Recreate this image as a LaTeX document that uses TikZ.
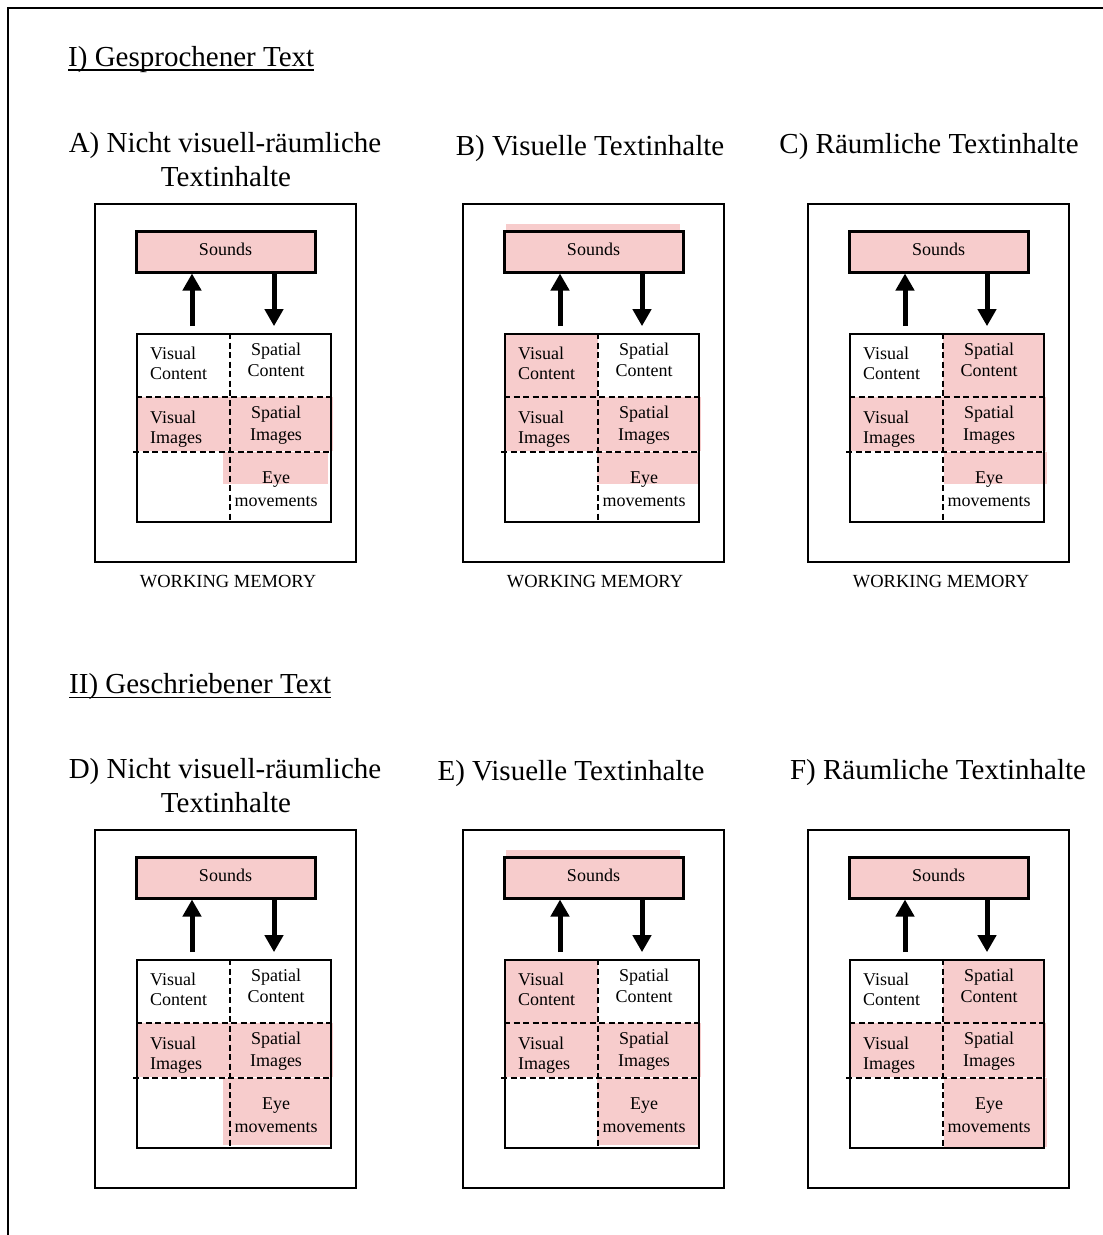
\documentclass[tikz,border=0pt]{standalone}
\usepackage{fontspec}
\setmainfont{Liberation Serif}
\usetikzlibrary{arrows.meta}
\definecolor{wmpink}{RGB}{247,204,204}

\tikzset{
  x=1pt, y=-1pt,
  framebox/.style={draw, line width=2.6pt, minimum width=261pt, minimum height=358pt, inner sep=0pt},
  soundsbox/.style={draw, line width=3pt, fill=wmpink, minimum width=179pt, minimum height=41pt,
    inner sep=0pt, text depth=5pt, font=\fontsize{18}{20}\selectfont},
  gridbox/.style={draw, line width=1.7pt, minimum width=194pt, minimum height=188pt, inner sep=0pt},
  griddash/.style={line width=1.6pt, dash pattern=on 6pt off 3.5pt},
  bigarrow/.style={line width=5pt, -{Triangle[width=18pt,length=17pt]}},
  cell/.style={inner sep=0pt, font=\fontsize{18}{20}\selectfont},
  heading/.style={inner sep=0pt, font=\fontsize{29}{34}\selectfont},
  wmlabel/.style={inner sep=0pt, font=\fontsize{18.5}{20}\selectfont},
  pinkfill/.style={fill=wmpink, draw=none}
}

% highlighted cells, in panel coordinates
\newcommand\pinkVC{\fill[pinkfill] (42,130) rectangle (135,193);}
\newcommand\pinkSC{\fill[pinkfill] (135,130) rectangle (235,193);}
\newcommand\pinkVI{\fill[pinkfill] (42,193) rectangle (135,247);}
\newcommand\pinkSI{\fill[pinkfill] (135,193) rectangle (238,247);}
\newcommand\pinkEye[3]{\fill[pinkfill] (#1,248) rectangle (#2,#3);}
\newcommand\pinkSnd{\fill[pinkfill] (43,20) rectangle (217,30);}

% one working-memory panel: #1 name, #2 x, #3 y, #4 highlighted cells
\newcommand\wmpanel[4]{%
  \begin{scope}[shift={(#2,#3)}]
    #4
    \node[framebox] (#1-frame) at (130.5,179) {};
    \node[gridbox] (#1-grid) at (139,224) {};
    \node[soundsbox] (#1-sounds) at (130.5,47.5) {Sounds};
    \coordinate (#1-upx) at (97,0);
    \coordinate (#1-dnx) at (179,0);
    \coordinate (#1-vx) at (135,0);
    \coordinate (#1-h1) at (0,193);
    \coordinate (#1-h2) at (38,248);
    \draw[griddash] (#1-grid.north -| #1-vx) -- (#1-grid.south -| #1-vx);
    \draw[griddash] (#1-grid.west |- #1-h1) -- (#1-grid.east |- #1-h1);
    \draw[griddash] (#1-h2) -- (#1-grid.east |- #1-h2);
    \draw[bigarrow, shorten <=7pt] (#1-grid.north -| #1-upx) -- (#1-sounds.south -| #1-upx);
    \draw[bigarrow, shorten >=7pt] (#1-sounds.south -| #1-dnx) -- (#1-grid.north -| #1-dnx);
    \node[cell, anchor=base west] (#1-vc1) at (55,155) {Visual};
    \node[cell, anchor=base west] (#1-vc2) at (55,175.5) {Content};
    \node[cell, anchor=base] (#1-sc1) at (181,151) {Spatial};
    \node[cell, anchor=base] (#1-sc2) at (181,172) {Content};
    \node[cell, anchor=base west] (#1-vi1) at (55,219) {Visual};
    \node[cell, anchor=base west] (#1-vi2) at (55,239) {Images};
    \node[cell, anchor=base] (#1-si1) at (181,214) {Spatial};
    \node[cell, anchor=base] (#1-si2) at (181,236) {Images};
    \node[cell, anchor=base] (#1-ey1) at (181,279.5) {Eye};
    \node[cell, anchor=base] (#1-ey2) at (181,302) {movements};
  \end{scope}}

\begin{document}
\begin{tikzpicture}
  \useasboundingbox (0,0) rectangle (1103,1235);
  \fill[white] (0,0) rectangle (1103,1235);
  % page frame, open to the right and bottom
  \draw[line width=2pt] (1103,7.5) -- (8,7.5) -- (8,1235);

  % section I
  \node[heading, anchor=base west] (secI) at (68,66.5) {I) Gesprochener Text};
  \draw[line width=1.5pt] ([yshift=-3.5pt]secI.base west) -- ([yshift=-3.5pt]secI.base east);
  \node[heading, anchor=base] (A-t1) at (225,152) {A) Nicht visuell-räumliche};
  \node[heading, anchor=base] (A-t2) at (226,186) {Textinhalte};
  \node[heading, anchor=base] (B-t1) at (590,155) {B) Visuelle Textinhalte};
  \node[heading, anchor=base] (C-t1) at (929,153) {C) Räumliche Textinhalte};

  \wmpanel{A}{95}{204}{\pinkVI\pinkSI\pinkEye{128}{233}{280}}
  \wmpanel{B}{463}{204}{\pinkSnd\pinkVC\pinkVI\pinkSI\pinkEye{134}{237}{280}}
  \wmpanel{C}{808}{204}{\pinkSC\pinkVI\pinkSI\pinkEye{136}{239}{280}}

  \node[wmlabel, anchor=base] (A-wm) at (228,587) {WORKING MEMORY};
  \node[wmlabel, anchor=base] (B-wm) at (595,587) {WORKING MEMORY};
  \node[wmlabel, anchor=base] (C-wm) at (941,587) {WORKING MEMORY};

  % section II
  \node[heading, anchor=base west] (secII) at (69,693) {II) Geschriebener Text};
  \draw[line width=1.5pt] ([yshift=-4.5pt]secII.base west) -- ([yshift=-4.5pt]secII.base east);
  \node[heading, anchor=base] (D-t1) at (225,778) {D) Nicht visuell-räumliche};
  \node[heading, anchor=base] (D-t2) at (226,812) {Textinhalte};
  \node[heading, anchor=base] (E-t1) at (571,780) {E) Visuelle Textinhalte};
  \node[heading, anchor=base] (F-t1) at (938,779) {F) Räumliche Textinhalte};

  \wmpanel{D}{95}{830}{\pinkVI\pinkSI\pinkEye{128}{235}{315}}
  \wmpanel{E}{463}{830}{\pinkSnd\pinkVC\pinkVI\pinkSI\pinkEye{134}{237}{315}}
  \wmpanel{F}{808}{830}{\pinkSC\pinkVI\pinkSI\pinkEye{136}{239}{317}}
\end{tikzpicture}
\end{document}
